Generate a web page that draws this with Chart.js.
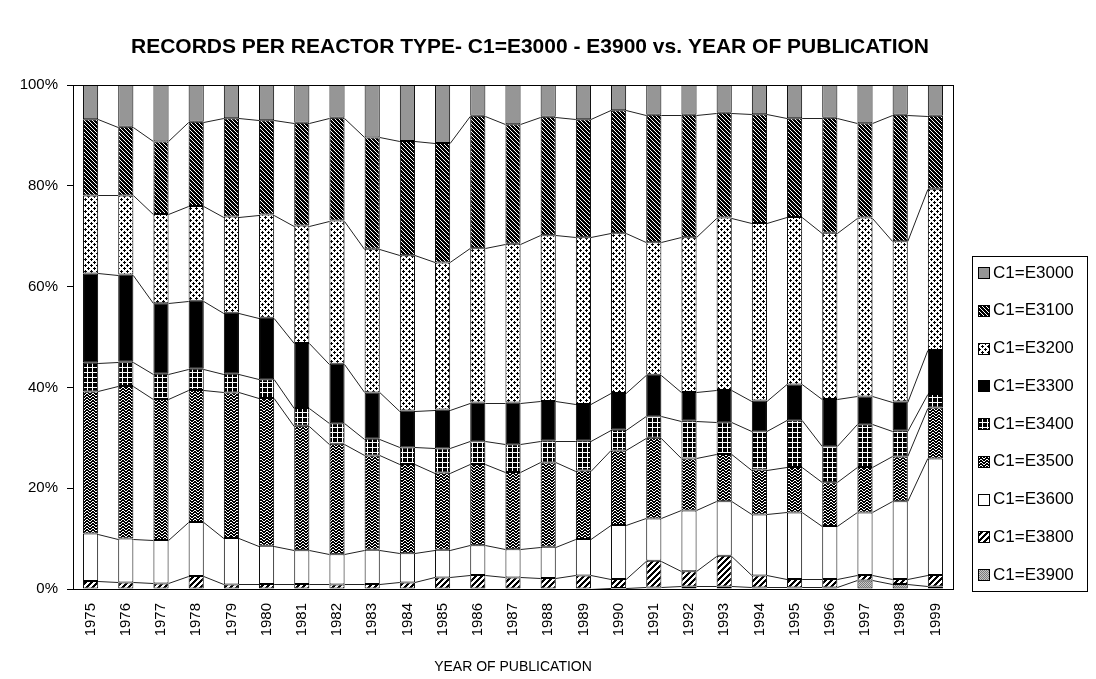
<!DOCTYPE html>
<html>
<head>
<meta charset="utf-8">
<script src="https://cdn.jsdelivr.net/npm/chart.js@4/dist/chart.umd.min.js"></script>
<style>
  body { margin: 0; background: #fff; }
  #wrap { width: 1096px; height: 679px; }
</style>
</head>
<body>
<div id="wrap"><canvas id="chart" width="1096" height="679"></canvas></div>
<script>
const years = ["1975", "1976", "1977", "1978", "1979", "1980", "1981", "1982", "1983", "1984",
  "1985", "1986", "1987", "1988", "1989", "1990", "1991", "1992", "1993", "1994",
  "1995", "1996", "1997", "1998", "1999"];

// percent share per reactor type
const e3000 = [6.8, 8.3, 11.2, 7.3, 6.6, 7.0, 7.5, 6.5, 10.4, 11.1, 11.5, 6.1, 7.8, 6.3, 6.8, 5.0, 5.9, 5.9, 5.5, 5.8, 6.6, 6.5, 7.6, 5.9, 6.1];
const e3100 = [15.1, 13.6, 14.4, 16.7, 19.5, 18.7, 20.4, 20.4, 22.1, 22.7, 23.7, 26.3, 23.7, 23.5, 23.4, 24.4, 25.3, 24.3, 20.8, 21.6, 19.6, 22.8, 18.7, 25.1, 14.5];
const e3200 = [15.5, 15.7, 17.7, 18.8, 19.1, 20.5, 23.3, 28.4, 28.5, 30.8, 29.2, 30.6, 31.5, 32.9, 33.1, 31.7, 26.3, 30.7, 34.2, 35.2, 33.2, 33.0, 35.5, 31.8, 32.0];
const e3300 = [17.7, 17.3, 14.0, 13.5, 12.1, 12.2, 12.9, 11.8, 9.2, 7.3, 7.7, 7.7, 8.3, 7.9, 7.3, 7.3, 8.2, 5.7, 6.4, 6.1, 7.1, 9.4, 5.5, 5.8, 8.7];
const e3400 = [5.7, 4.8, 5.0, 4.2, 3.7, 3.7, 3.5, 4.1, 3.3, 3.3, 4.8, 4.5, 5.5, 4.3, 5.9, 4.1, 4.3, 7.5, 6.3, 7.6, 9.3, 7.1, 8.5, 5.1, 2.7];
const e3500 = [28.2, 30.3, 28.0, 26.2, 28.9, 29.3, 24.7, 21.9, 18.7, 17.7, 15.3, 16.1, 15.3, 16.7, 13.6, 14.8, 16.0, 10.3, 9.4, 8.9, 9.0, 8.7, 9.0, 8.9, 10.1];
const e3600 = [9.4, 8.7, 8.6, 10.7, 9.2, 7.6, 6.7, 6.0, 6.8, 5.8, 5.5, 5.9, 5.6, 6.2, 7.2, 10.7, 8.4, 12.1, 10.8, 12.1, 13.2, 10.5, 12.4, 15.4, 23.1];
const e3800 = [1.6, 1.3, 1.1, 2.6, 0.9, 1.0, 1.0, 0.9, 1.0, 1.3, 2.3, 2.8, 2.3, 2.2, 2.7, 1.8, 5.3, 3.0, 6.1, 2.4, 1.7, 1.7, 1.1, 1.0, 2.3];
const e3900 = [0, 0, 0, 0, 0, 0, 0, 0, 0, 0, 0, 0, 0, 0, 0, 0.2, 0.3, 0.5, 0.5, 0.3, 0.3, 0.3, 1.7, 1.0, 0.5];

const yTicks = [0, 20, 40, 60, 80, 100];

const FONT = "'Liberation Sans', Arial, sans-serif";
const canvas = document.querySelector("#chart");
const ctx = canvas.getContext("2d");

// small tile -> canvas pattern, imitating the excel fills
const makePattern = (w, h, bg, fg, pixels) => {
  const tile = document.createElement("canvas");
  tile.width = w;
  tile.height = h;
  const t = tile.getContext("2d");
  t.fillStyle = bg;
  t.fillRect(0, 0, w, h);
  t.fillStyle = fg;
  for (let y = 0; y < h; y++) {
    for (let x = 0; x < w; x++) {
      if (pixels(x, y)) t.fillRect(x, y, 1, 1);
    }
  }
  return ctx.createPattern(tile, "repeat");
};

const fills = {
  e3000: "#969696",
  e3100: makePattern(4, 4, "#000", "#fff", (x, y) => x === y),
  e3200: makePattern(6, 6, "#fff", "#000", (x, y) => {
    const a = (x === 1 && y <= 2) || (y === 1 && x <= 2);
    const b = (x === 4 && y >= 3 && y <= 5) || (y === 4 && x >= 3 && x <= 5);
    return a || b;
  }),
  e3300: "#000",
  e3400: makePattern(5, 5, "#000", "#fff", (x, y) => x === 2 || y === 2),
  e3500: makePattern(6, 3, "#000", "#fff", (x, y) => y === Math.floor(Math.abs(x - 2.5))),
  e3600: "#fff",
  e3800: makePattern(6, 6, "#fff", "#000", (x, y) => (x + y) % 6 < 3),
  e3900: makePattern(2, 2, "#c8c8c8", "#7a7a7a", (x, y) => (x + y) % 2 === 0),
};

const series = [
  { label: "C1=E3900", data: e3900, fill: fills.e3900 },
  { label: "C1=E3800", data: e3800, fill: fills.e3800 },
  { label: "C1=E3600", data: e3600, fill: fills.e3600 },
  { label: "C1=E3500", data: e3500, fill: fills.e3500 },
  { label: "C1=E3400", data: e3400, fill: fills.e3400 },
  { label: "C1=E3300", data: e3300, fill: fills.e3300 },
  { label: "C1=E3200", data: e3200, fill: fills.e3200 },
  { label: "C1=E3100", data: e3100, fill: fills.e3100 },
  { label: "C1=E3000", data: e3000, fill: fills.e3000 },
];

// excel style series lines between the stacked segments
const seriesLines = {
  id: "seriesLines",
  afterDatasetsDraw(chart) {
    const c = chart.ctx;
    c.save();
    c.strokeStyle = "#222";
    c.lineWidth = 1;
    chart.data.datasets.forEach((ds, i) => {
      const bars = chart.getDatasetMeta(i).data;
      for (let k = 0; k < bars.length - 1; k++) {
        const a = bars[k];
        const b = bars[k + 1];
        c.beginPath();
        c.moveTo(a.x + a.width / 2, Math.round(a.y) + 0.5);
        c.lineTo(b.x - b.width / 2, Math.round(b.y) + 0.5);
        c.stroke();
      }
    });
    c.restore();
  },
};

const frameAndText = {
  id: "frameAndText",
  afterDraw(chart) {
    const c = chart.ctx;
    const area = chart.chartArea;
    c.save();
    c.strokeStyle = "#000";
    c.lineWidth = 1;
    c.strokeRect(Math.round(area.left) + 0.5, Math.round(area.top) + 0.5,
      Math.round(area.right - area.left), Math.round(area.bottom - area.top));

    c.fillStyle = "#000";
    c.font = "bold 21px " + FONT;
    c.textAlign = "center";
    c.textBaseline = "middle";
    c.fillText("RECORDS PER REACTOR TYPE- C1=E3000 - E3900 vs. YEAR OF PUBLICATION", 530, 47);

    // legend box
    c.strokeRect(972.5, 256.5, 115, 335);
    c.font = "17px " + FONT;
    c.textAlign = "left";
    const items = chart.data.datasets.slice().reverse();
    items.forEach((ds, i) => {
      const cy = 273 + i * 37.75;
      c.fillStyle = ds.backgroundColor;
      c.fillRect(979, Math.round(cy - 5), 10, 10);
      c.strokeStyle = "#000";
      c.strokeRect(978.5, Math.round(cy - 5) - 0.5, 11, 11);
      c.fillStyle = "#000";
      c.fillText(ds.label, 993, cy);
    });
    c.restore();
  },
};

new Chart(canvas, {
  type: "bar",
  data: {
    labels: years,
    datasets: series.map((s) => ({
      label: s.label,
      data: s.data,
      backgroundColor: s.fill,
      borderColor: "#000",
      borderWidth: 1,
      borderSkipped: false,
      categoryPercentage: 1,
      barPercentage: 0.43,
    })),
  },
  options: {
    responsive: false,
    devicePixelRatio: 1,
    animation: false,
    layout: { padding: { top: 85, right: 143, left: 0, bottom: 0 } },
    plugins: {
      legend: { display: false },
      tooltip: { enabled: false },
      title: { display: false },
    },
    scales: {
      x: {
        stacked: true,
        grid: { display: false },
        border: { display: true, color: "#000" },
        ticks: {
          color: "#000",
          font: { family: FONT, size: 15 },
          maxRotation: 90,
          minRotation: 90,
          autoSkip: false,
          padding: 6,
        },
        title: {
          display: true,
          text: "YEAR OF PUBLICATION",
          color: "#000",
          font: { family: FONT, size: 14 },
          padding: { top: 0, bottom: 3 },
        },
        afterFit: (scale) => { scale.height = 90; },
      },
      y: {
        stacked: true,
        min: 0,
        max: 100,
        grid: { drawOnChartArea: false, drawTicks: true, tickLength: 6, color: "#000" },
        border: { display: true, color: "#000" },
        ticks: {
          color: "#000",
          font: { family: FONT, size: 15 },
          stepSize: 20,
          padding: 9,
          callback: (v) => (yTicks.includes(v) ? v + "%" : ""),
        },
        afterFit: (scale) => { scale.width = 73; },
      },
    },
  },
  plugins: [seriesLines, frameAndText],
});
</script>
</body>
</html>
